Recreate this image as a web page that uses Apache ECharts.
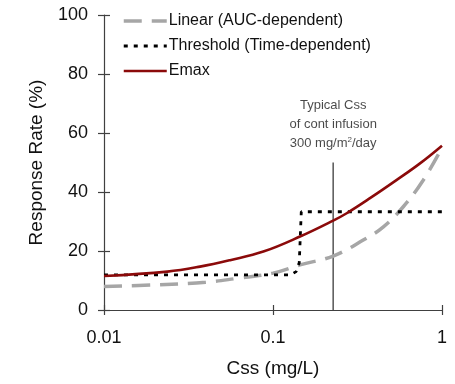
<!DOCTYPE html>
<html><head><meta charset="utf-8">
<script src="https://cdn.jsdelivr.net/npm/echarts@6/dist/echarts.min.js"></script>
<style>html,body{margin:0;padding:0;background:#fff}#c{width:455px;height:384px}</style>
</head><body><div id="c"></div>
<script>
const linearX = [0.01, 0.02, 0.04, 0.061, 0.1, 0.1445, 0.227, 0.342, 0.45, 0.59, 0.774, 1];
const linearY = [8, 8.5, 9.4, 10.7, 12.5, 15.3, 18.3, 23.7, 28.2, 35, 44, 55];
const thresholdX = [0.01, 0.127, 0.137, 0.143, 0.147, 0.152, 1];
const thresholdY = [11.9, 11.9, 13, 16, 33.3, 33.3, 33.3];
const emaxX = [0.01, 0.0237, 0.037, 0.0557, 0.0877, 0.1445, 0.227, 0.273, 0.375, 0.54, 0.741, 1];
const emaxY = [11.5, 13, 14.7, 16.9, 19.8, 24.9, 30.3, 32.8, 37.9, 44.1, 49.7, 55.7];
const cssLineX = 0.227;
const cssLineY = [0, 50];
const noteLines = ['Typical Css', 'of cont infusion', '300 mg/m{sup|2}/day'];
const xTicks = [0.01, 0.1, 1];
const yTicks = [0, 20, 40, 60, 80, 100];
const seriesNames = ['Linear (AUC-dependent)', 'Threshold (Time-dependent)', 'Emax'];

const zip = (xs, ys) => xs.map((x, i) => [x, ys[i]]);
const font = 'Liberation Sans, Arial, sans-serif';
const axisColor = '#404040';
const styles = [
  {color: '#a6a6a6', width: 3.5, type: [18, 10]},
  {color: '#000000', width: 2.8, type: [4, 6]},
  {color: '#8b0a0a', width: 2.6, type: 'solid'}
];

const chart = echarts.init(document.getElementById('c'));
chart.setOption({
  animation: false,
  textStyle: {fontFamily: font},
  grid: {left: 104, right: 13, top: 15, bottom: 74},
  legend: {
    orient: 'vertical', left: 117, top: 8, itemWidth: 43, itemHeight: 14, itemGap: 9,
    data: seriesNames.map((n, i) => ({
      name: n,
      itemStyle: {opacity: 0},
      lineStyle: {color: styles[i].color, width: styles[i].width, type: styles[i].type, cap: 'butt'}
    })),
    textStyle: {fontSize: 16, color: '#111', fontFamily: font, padding: [0, 0, 0, -3]}
  },
  xAxis: [{
    type: 'log', logBase: 10, min: 0.01, max: 1,
    name: 'Css (mg/L)', nameLocation: 'middle', nameGap: 49,
    nameTextStyle: {fontSize: 19, color: '#111', fontFamily: font},
    axisLine: {lineStyle: {color: axisColor, width: 1.2}},
    axisTick: {show: true, inside: false, length: 5, lineStyle: {color: axisColor, width: 1.2}},
    minorTick: {show: false}, splitLine: {show: false}, minorSplitLine: {show: false},
    axisLabel: {fontSize: 18, color: '#111', margin: 19, fontFamily: font,
      formatter: v => { const t = xTicks.find(t => Math.abs(t - v) / t < 1e-6); return t === undefined ? '' : String(t); }}
  }, {
    type: 'log', logBase: 10, min: 0.01, max: 1, position: 'bottom',
    axisLine: {show: false},
    axisTick: {show: true, inside: true, length: 5, lineStyle: {color: axisColor, width: 1.2}},
    axisLabel: {show: false}, splitLine: {show: false}
  }],
  yAxis: [{
    type: 'value', min: 0, max: 100, interval: 20,
    name: 'Response Rate (%)', nameLocation: 'middle', nameGap: 58, nameRotate: 90,
    nameTextStyle: {fontSize: 19, color: '#111', fontFamily: font},
    axisLine: {show: true, lineStyle: {color: axisColor, width: 1.2}},
    axisTick: {show: true, inside: false, length: 6, lineStyle: {color: axisColor, width: 1.2}},
    splitLine: {show: false},
    axisLabel: {fontSize: 18, color: '#111', margin: 16, fontFamily: font,
      formatter: v => yTicks.includes(v) ? String(v) : ''}
  }, {
    type: 'value', min: 0, max: 100, interval: 20, position: 'left',
    axisLine: {show: false},
    axisTick: {show: true, inside: true, length: 6, lineStyle: {color: axisColor, width: 1.2}},
    axisLabel: {show: false}, splitLine: {show: false}
  }],
  series: [
    {
      name: seriesNames[0], type: 'line', smooth: 0.4, symbol: 'none',
      data: zip(linearX, linearY),
      lineStyle: Object.assign({cap: 'butt'}, styles[0]),
      itemStyle: {color: styles[0].color}, z: 2
    },
    {
      name: seriesNames[1], type: 'line', symbol: 'none',
      data: zip(thresholdX, thresholdY),
      lineStyle: Object.assign({cap: 'butt'}, styles[1]),
      itemStyle: {color: styles[1].color}, z: 3
    },
    {
      name: seriesNames[2], type: 'line', smooth: 0.4, symbol: 'none',
      data: zip(emaxX, emaxY),
      lineStyle: Object.assign({}, styles[2]),
      itemStyle: {color: styles[2].color}, z: 4
    },
    {
      name: 'cssLine', type: 'line', symbol: 'none',
      data: cssLineY.map(y => [cssLineX, y]),
      lineStyle: {color: '#555', width: 1.5}, z: 1, silent: true
    },
    {
      name: 'note', type: 'scatter', symbolSize: 0,
      data: [[cssLineX, 63]],
      label: {
        show: true, position: 'inside', formatter: noteLines.join('\n'),
        fontSize: 13, color: '#1a1a1a', fontFamily: font, lineHeight: 19, align: 'center',
        rich: {sup: {fontSize: 8, lineHeight: 19, padding: [0, 0, 7, 0], color: '#1a1a1a', fontFamily: font}}
      }, silent: true
    }
  ]
});
</script></body></html>
